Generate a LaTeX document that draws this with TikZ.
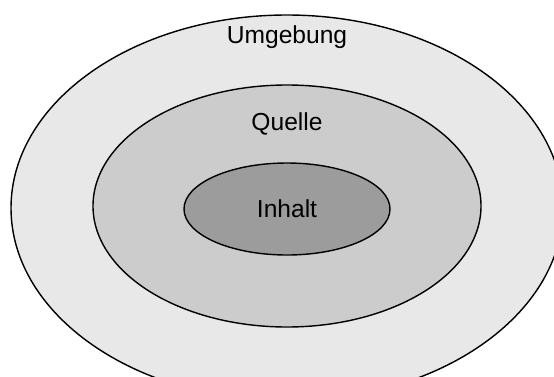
\documentclass[tikz,border=0pt]{standalone}
\usepackage{fontspec}
\setmainfont{Liberation Sans}
\definecolor{umgebungfill}{HTML}{E8E8E8}
\definecolor{quellefill}{HTML}{CCCCCC}
\definecolor{inhaltfill}{HTML}{9C9C9C}

\begin{document}
\begin{tikzpicture}[
	x=0.02cm, y=-0.02cm,
	ring/.style={draw=black, line width=0.8pt},
	label/.style={font=\fontsize{14}{16}\selectfont, inner sep=0pt}]
\useasboundingbox (0,0) rectangle (554,376);
\clip (0,0) rectangle (554,376);
\fill[white] (0,0) rectangle (554,376);
\draw[ring, fill=umgebungfill] (287,208) ellipse [x radius=276, y radius=193];
\draw[ring, fill=quellefill] (287,206) ellipse [x radius=194, y radius=121];
\draw[ring, fill=inhaltfill] (287,209) ellipse [x radius=103, y radius=46];
\node[label] (umgebung) at (287,37) {Umgebung};
\node[label] (quelle) at (287,124) {Quelle};
\node[label] (inhalt) at (287,209) {Inhalt};
\end{tikzpicture}
\end{document}
